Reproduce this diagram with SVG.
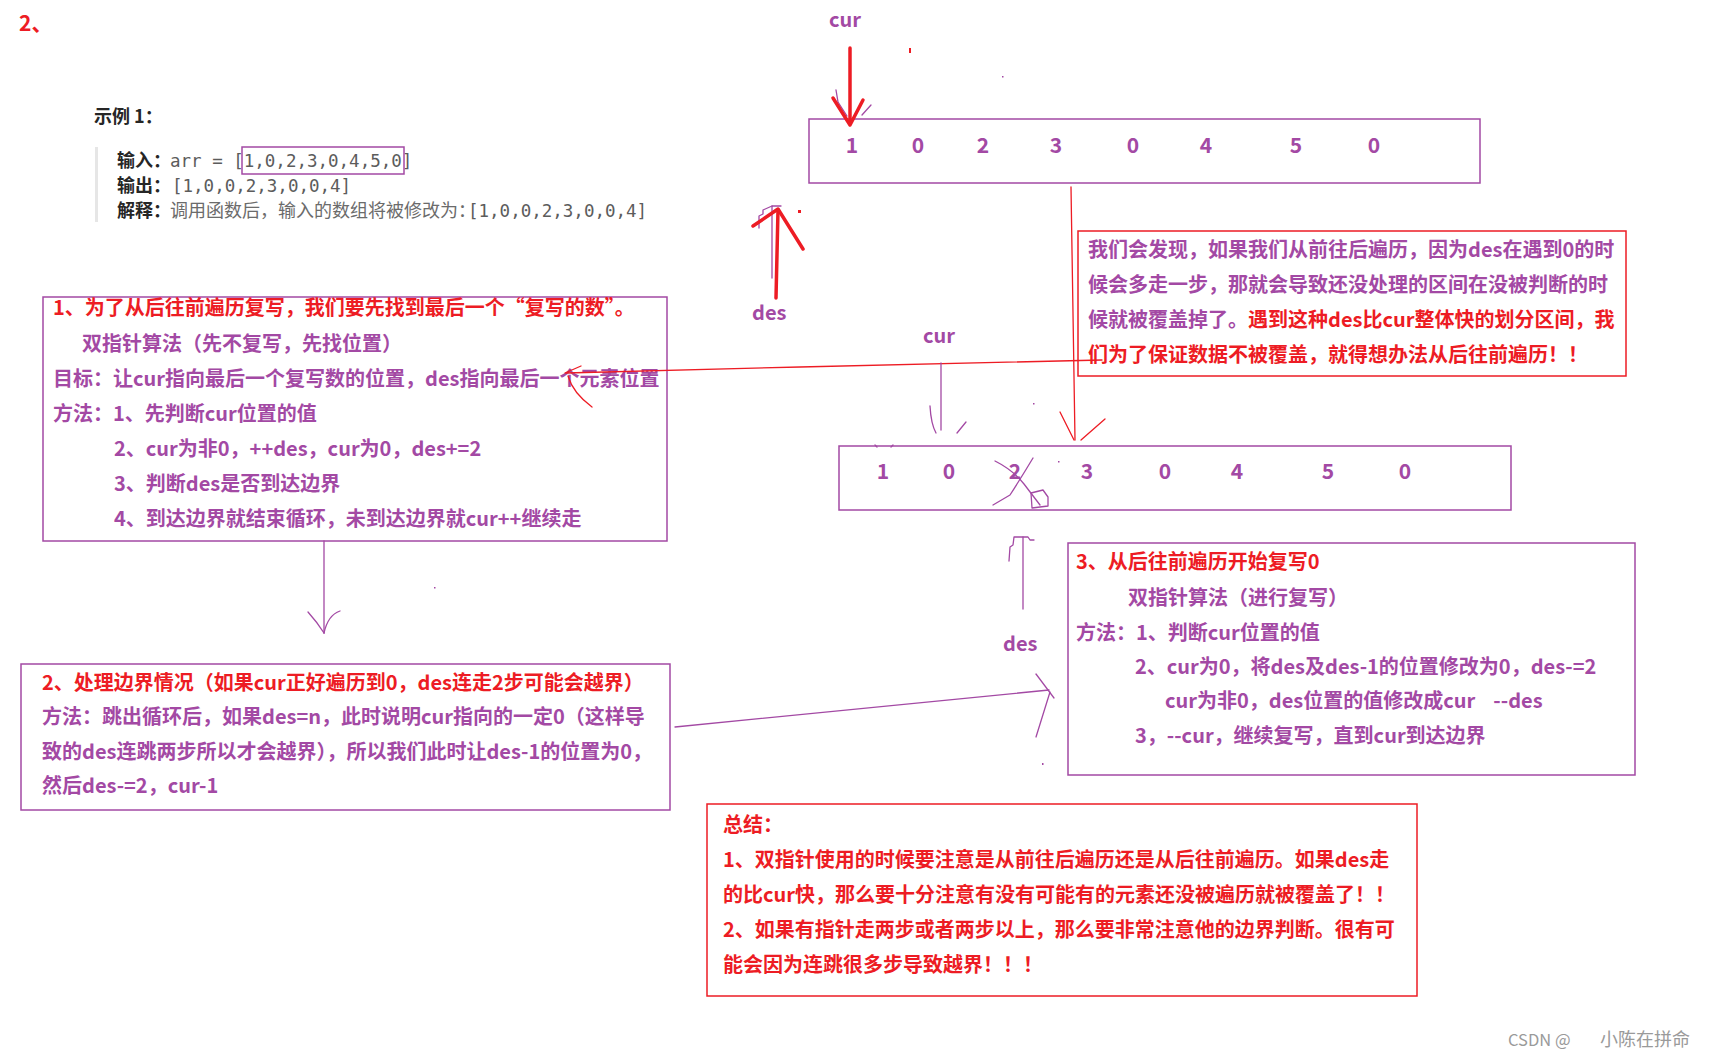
<svg xmlns="http://www.w3.org/2000/svg" width="1721" height="1059" viewBox="0 0 1721 1059">
<style>
text{font-family:"Noto Sans CJK SC","Liberation Sans",sans-serif;}
.t{font-size:20px;font-weight:700;white-space:pre;}
.p{fill:#A349A4;}
.r{fill:#ED1C24;}
.lab{font-size:20px;font-weight:700;fill:#A349A4;}
.num{font-size:21px;font-weight:700;fill:#A349A4;text-anchor:middle;}
.lcb{font-size:18px;font-weight:700;fill:#262626;}
.lc{font-size:18px;fill:#6b6b6b;}
.mono{font-family:"DejaVu Sans Mono","Liberation Mono",monospace;font-size:17.5px;fill:#5c5c5c;}
.pbox{fill:none;stroke:#A349A4;stroke-width:1.5;}
.rbox{fill:none;stroke:#ED1C24;stroke-width:1.5;}
.pl{fill:none;stroke:#A349A4;stroke-width:1.3;stroke-linecap:round;stroke-linejoin:round;}
.rl{fill:none;stroke:#ED1C24;stroke-width:1.3;stroke-linecap:round;stroke-linejoin:round;}
.rt{fill:none;stroke:#ED1C24;stroke-width:3.5;stroke-linecap:round;stroke-linejoin:round;}
</style>

<g id="title">
<text x="19" y="31" font-size="21" font-weight="700" fill="#ED1C24">2、</text>
</g>

<g id="example">
<text class="lcb" x="94" y="123" font-size="17">示例 1：</text>
<rect x="95" y="147" width="3" height="75" fill="#e6e6e6"/>
<text class="lcb" x="117" y="167">输入：</text>
<text class="mono" x="170" y="167">arr = [1,0,2,3,0,4,5,0]</text>
<rect class="pbox" x="242" y="147" width="162" height="27" stroke-width="1.2"/>
<text class="lcb" x="117" y="192">输出：</text>
<text class="mono" x="172" y="192">[1,0,0,2,3,0,0,4]</text>
<text class="lcb" x="117" y="217">解释：</text>
<text class="lc" x="170" y="217">调用函数后，输入的数组将被修改为：</text>
<text class="mono" x="468" y="217">[1,0,0,2,3,0,0,4]</text>
</g>

<g id="array-top">
<rect class="pbox" x="809" y="119" width="671" height="64"/>
<text class="num" x="852" y="153">1</text>
<text class="num" x="918" y="153">0</text>
<text class="num" x="983" y="153">2</text>
<text class="num" x="1056" y="153">3</text>
<text class="num" x="1133" y="153">0</text>
<text class="num" x="1206" y="153">4</text>
<text class="num" x="1296" y="153">5</text>
<text class="num" x="1374" y="153">0</text>
</g>

<g id="array-bottom">
<rect class="pbox" x="839" y="446" width="672" height="64"/>
<text class="num" x="883" y="479">1</text>
<text class="num" x="949" y="479">0</text>
<text class="num" x="1015" y="479">2</text>
<text class="num" x="1087" y="479">3</text>
<text class="num" x="1165" y="479">0</text>
<text class="num" x="1237" y="479">4</text>
<text class="num" x="1328" y="479">5</text>
<text class="num" x="1405" y="479">0</text>
</g>

<g id="labels">
<text class="lab" x="829" y="27">cur</text>
<text class="lab" x="752" y="320">des</text>
<text class="lab" x="923" y="343">cur</text>
<text class="lab" x="1003" y="651">des</text>
</g>

<g id="box1">
<rect class="pbox" x="43" y="297" width="624" height="244"/>
<text class="t r" x="53" y="315">1、为了从后往前遍历复写，我们要先找到最后一个“复写的数”。</text>
<text class="t p" x="82" y="351">双指针算法（先不复写，先找位置）</text>
<text class="t p" x="53" y="386">目标：让cur指向最后一个复写数的位置，des指向最后一个元素位置</text>
<text class="t p" x="53" y="421">方法：1、先判断cur位置的值</text>
<text class="t p" x="114" y="456">2、cur为非0，++des，cur为0，des+=2</text>
<text class="t p" x="114" y="491">3、判断des是否到达边界</text>
<text class="t p" x="114" y="526">4、到达边界就结束循环，未到达边界就cur++继续走</text>
</g>

<g id="note-red">
<rect class="rbox" x="1078" y="231" width="548" height="145"/>
<text class="t p" x="1088" y="257">我们会发现，如果我们从前往后遍历，因为des在遇到0的时</text>
<text class="t p" x="1088" y="292">候会多走一步，那就会导致还没处理的区间在没被判断的时</text>
<text class="t" x="1088" y="327"><tspan class="p">候就被覆盖掉了。</tspan><tspan class="r">遇到这种des比cur整体快的划分区间，我</tspan></text>
<text class="t r" x="1088" y="362">们为了保证数据不被覆盖，就得想办法从后往前遍历！！</text>
</g>

<g id="box2">
<rect class="pbox" x="21" y="664" width="649" height="146"/>
<text class="t r" x="42" y="690">2、处理边界情况（如果cur正好遍历到0，des连走2步可能会越界）</text>
<text class="t p" x="42" y="724">方法：跳出循环后，如果des=n，此时说明cur指向的一定0（这样导</text>
<text class="t p" x="42" y="759">致的des连跳两步所以才会越界），所以我们此时让des-1的位置为0，</text>
<text class="t p" x="42" y="793">然后des-=2，cur-1</text>
</g>

<g id="box3">
<rect class="pbox" x="1068" y="543" width="567" height="232"/>
<text class="t r" x="1076" y="569">3、从后往前遍历开始复写0</text>
<text class="t p" x="1128" y="605">双指针算法（进行复写）</text>
<text class="t p" x="1076" y="640">方法：1、判断cur位置的值</text>
<text class="t p" x="1135" y="674">2、cur为0，将des及des-1的位置修改为0，des-=2</text>
<text class="t p" x="1165" y="708">cur为非0，des位置的值修改成cur    --des</text>
<text class="t p" x="1135" y="743">3，--cur，继续复写，直到cur到达边界</text>
</g>

<g id="summary">
<rect class="rbox" x="707" y="804" width="710" height="192"/>
<text class="t r" x="723" y="832">总结：</text>
<text class="t r" x="723" y="867">1、双指针使用的时候要注意是从前往后遍历还是从后往前遍历。如果des走</text>
<text class="t r" x="723" y="902">的比cur快，那么要十分注意有没有可能有的元素还没被遍历就被覆盖了！！</text>
<text class="t r" x="723" y="937">2、如果有指针走两步或者两步以上，那么要非常注意他的边界判断。很有可</text>
<text class="t r" x="723" y="972">能会因为连跳很多步导致越界！！！</text>
</g>

<g id="connectors">
<polyline class="pl" points="836,90 838,102 847,116"/>
<line class="pl" x1="871" y1="105" x2="862" y2="115"/>
<line class="rt" x1="850" y1="48" x2="850" y2="123"/>
<polyline class="rt" stroke-width="3" points="833,98 850,125 863,100"/>

<polyline class="pl" points="772,278 772,206 781,206"/>
<polyline class="pl" points="772,206 763,210 763,214 759,216 759,228"/>
<line class="rt" x1="776" y1="298" x2="778" y2="210"/>
<polyline class="rt" points="753,226 778,209 803,249"/>

<line class="rl" x1="1071" y1="187" x2="1075" y2="440"/>
<line class="rl" x1="1060" y1="412" x2="1074" y2="440"/>
<line class="rl" x1="1105" y1="419" x2="1081" y2="440"/>

<polyline class="rl" points="566,373 800,367 1102,360"/>
<line class="rl" x1="581" y1="366" x2="565" y2="373"/>
<path class="rl" d="M568,376 Q573,393 592,407"/>

<line class="pl" x1="941" y1="363" x2="941" y2="430"/>
<path class="pl" d="M930,406 Q931,424 936,433"/>
<line class="pl" x1="966" y1="422" x2="957" y2="433"/>

<line class="pl" x1="1023" y1="609" x2="1023" y2="537"/>
<polyline class="pl" points="1009,561 1010,547 1013,545 1014,537 1028,537 1030,540 1034,540"/>

<line class="pl" x1="324" y1="541" x2="324" y2="633"/>
<path class="pl" d="M308,612 Q317,622 324,633"/>
<path class="pl" d="M340,611 Q328,615 324,633"/>

<line class="pl" x1="675" y1="727" x2="1049" y2="690"/>
<line class="pl" x1="1036" y1="674" x2="1054" y2="698"/>
<line class="pl" x1="1050" y1="692" x2="1036" y2="737"/>
</g>

<g id="marks">
<path class="pl" d="M995,461 Q1013,470 1024,484 L1040,505"/>
<path class="pl" d="M1033,458 Q1021,478 1010,495 L993,505"/>
<path class="pl" d="M1031,493 L1043,490 L1048,497 L1048,506 L1032,508 Z"/>
<line class="pl" x1="875" y1="445" x2="877" y2="447"/>
<line class="pl" x1="891" y1="447" x2="893" y2="445"/>
<rect x="909" y="48" width="2" height="5" fill="#ED1C24"/>
<rect x="798" y="210" width="3" height="3" fill="#ED1C24"/>
<rect x="1002" y="76" width="1.5" height="1.5" fill="#A349A4"/>
<rect x="1033" y="403" width="1.5" height="1.5" fill="#A349A4"/>
<rect x="1058" y="461" width="1.5" height="1.5" fill="#A349A4"/>
<rect x="434" y="587" width="1.5" height="1.5" fill="#A349A4"/>
<rect x="1042" y="763" width="1.5" height="2" fill="#A349A4"/>
</g>

<g id="watermark">
<text x="1508" y="1046" fill="#9a9a9a" font-size="16.5" font-family="'Liberation Sans','Noto Sans CJK SC',sans-serif">CSDN @<tspan x="1600" font-size="18">小陈在拼命</tspan></text>
</g>
</svg>
